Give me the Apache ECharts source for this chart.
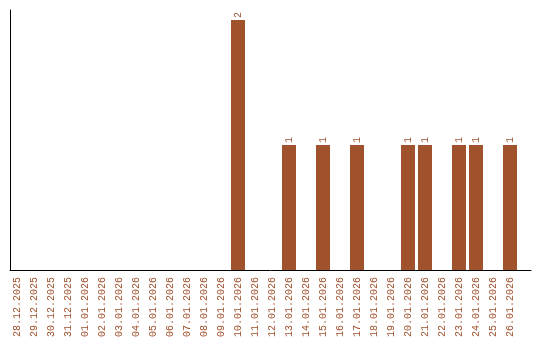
<!DOCTYPE html>
<html>
<head>
<meta charset="utf-8">
<style>html,body{margin:0;padding:0;background:#fff;}#c{width:540px;height:340px;}</style>
<script src="https://cdn.jsdelivr.net/npm/echarts@6/dist/echarts.min.js"></script>
</head>
<body>
<div id="c"></div>
<script>
const categories = ["28.12.2025","29.12.2025","30.12.2025","31.12.2025","01.01.2026","02.01.2026","03.01.2026","04.01.2026","05.01.2026","06.01.2026","07.01.2026","08.01.2026","09.01.2026","10.01.2026","11.01.2026","12.01.2026","13.01.2026","14.01.2026","15.01.2026","16.01.2026","17.01.2026","18.01.2026","19.01.2026","20.01.2026","21.01.2026","22.01.2026","23.01.2026","24.01.2026","25.01.2026","26.01.2026"];
const values = [0,0,0,0,0,0,0,0,0,0,0,0,0,2,0,0,1,0,1,0,1,0,0,1,1,0,1,1,0,1];

const color = '#a0522d';
const font = 'Liberation Mono';
const chart = echarts.init(document.getElementById('c'), null, {renderer: 'canvas'});
chart.setOption({
  backgroundColor: '#fff',
  animation: false,
  grid: [
    {left: 8.5, top: 20, width: 510, height: 250, containLabel: false},
    {left: 10, top: 10, width: 521, height: 260, containLabel: false}
  ],
  xAxis: [
    {
      type: 'category', gridIndex: 0, data: categories, boundaryGap: true,
      axisLine: {show: false}, axisTick: {show: false},
      axisLabel: {rotate: 90, interval: 0, margin: 7, color: color, fontFamily: font, fontSize: 10}
    },
    {
      type: 'value', gridIndex: 1, min: 0, max: 1,
      axisLine: {show: true, onZero: false, lineStyle: {color: '#000', width: 1}},
      axisTick: {show: false}, axisLabel: {show: false}, splitLine: {show: false}
    }
  ],
  yAxis: [
    {
      type: 'value', gridIndex: 0, min: 0, max: 2,
      axisLine: {show: false}, axisTick: {show: false}, axisLabel: {show: false}, splitLine: {show: false}
    },
    {
      type: 'value', gridIndex: 1, min: 0, max: 1,
      axisLine: {show: true, onZero: false, lineStyle: {color: '#000', width: 1}},
      axisTick: {show: false}, axisLabel: {show: false}, splitLine: {show: false}
    }
  ],
  series: [{
    type: 'bar', xAxisIndex: 0, yAxisIndex: 0,
    data: values, barWidth: 14,
    itemStyle: {color: color},
    label: {
      show: true, position: 'top', rotate: 90, align: 'left', verticalAlign: 'middle', distance: 2,
      color: color, fontFamily: font, fontSize: 10,
      formatter: p => p.value ? String(p.value) : ''
    }
  }]
});
</script>
</body>
</html>
